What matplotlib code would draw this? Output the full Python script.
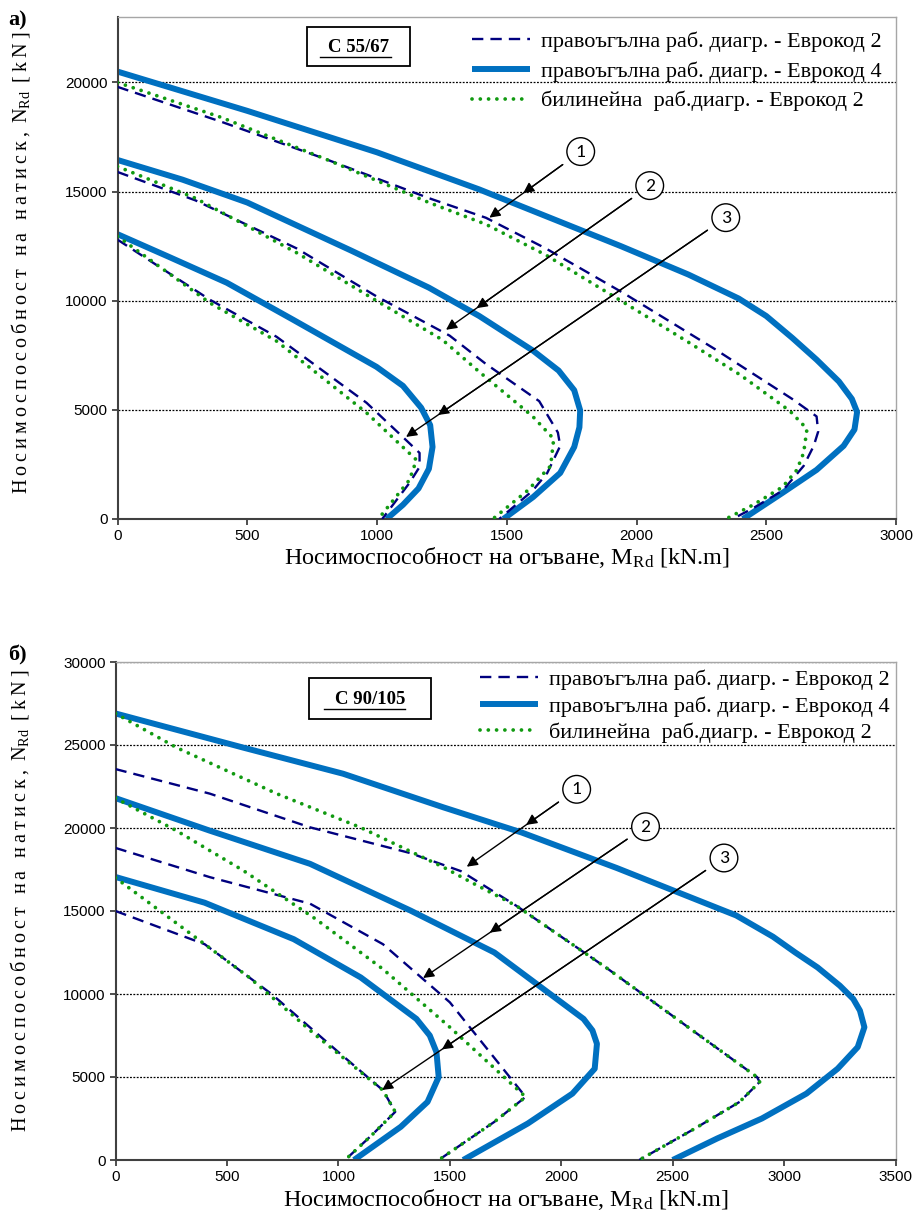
import matplotlib
matplotlib.use('Agg')
import matplotlib.pyplot as plt
from matplotlib import font_manager
from matplotlib.patches import Rectangle
from matplotlib.lines import Line2D

names = {f.name for f in font_manager.fontManager.ttflist}
NARROW = 'Liberation Sans Narrow' in names
TICKFONT = 'Liberation Sans Narrow' if NARROW else 'Liberation Sans'
TICKSIZE = 12.5 if NARROW else 11
SERIF = 'Liberation Serif'
CIRCFONT = 'Carlito' if 'Carlito' in names else 'Liberation Sans'

plt.rcParams['mathtext.fontset'] = 'custom'
plt.rcParams['mathtext.rm'] = SERIF
plt.rcParams['mathtext.it'] = SERIF + ':italic'
plt.rcParams['mathtext.bf'] = SERIF + ':bold'

# ---------------- DATA: panel а) C 55/67 ----------------
a_m_ec2_1 = [0, 400, 800, 1200, 1420, 1650, 1950, 2300, 2600, 2694, 2700, 2683, 2644, 2563, 2450, 2370]
a_n_ec2_1 = [19800, 18200, 16500, 14700, 13800, 12400, 10350, 7800, 5500, 4700, 4000, 3350, 2430, 1300, 500, 0]
a_m_ec4_1 = [0, 500, 1000, 1394, 1940, 2200, 2394, 2500, 2600, 2694, 2780, 2830, 2850, 2840, 2798, 2694, 2563, 2410]
a_n_ec4_1 = [20500, 18700, 16800, 15100, 12500, 11200, 10100, 9300, 8300, 7300, 6300, 5500, 4900, 4100, 3350, 2250, 1200, 0]
a_m_bil_1 = [0, 400, 800, 1200, 1420, 1650, 1940, 2200, 2400, 2591, 2657, 2644, 2618, 2563, 2450, 2344]
a_n_bil_1 = [20000, 18400, 16500, 14500, 13500, 12100, 10000, 8100, 6600, 4950, 4128, 3030, 2248, 1470, 650, 0]

a_m_ec2_2 = [0, 300, 690, 998, 1280, 1420, 1625, 1697, 1706, 1656, 1600, 1471]
a_n_ec2_2 = [15900, 14600, 12400, 10200, 8400, 7100, 5400, 3963, 3349, 2110, 1300, 0]
a_m_ec4_2 = [0, 250, 500, 900, 1200, 1394, 1602, 1700, 1760, 1783, 1780, 1760, 1706, 1602, 1487]
a_n_ec4_2 = [16450, 15550, 14500, 12300, 10600, 9300, 7706, 6800, 5900, 4972, 4200, 3300, 2110, 1009, 0]
a_m_bil_2 = [0, 300, 690, 998, 1253, 1394, 1600, 1681, 1669, 1580, 1446]
a_n_bil_2 = [16150, 14700, 12200, 10000, 8200, 6743, 4700, 3670, 2431, 1300, 0]

a_m_ec2_3 = [0, 356, 613, 960, 1099, 1164, 1164, 1125, 1020]
a_n_ec2_3 = [12800, 10046, 8349, 5321, 3761, 3028, 2385, 1651, 0]
a_m_ec4_3 = [0, 200, 421, 677, 998, 1100, 1170, 1205, 1214, 1200, 1160, 1100, 1037]
a_n_ec4_3 = [13050, 12000, 10826, 9128, 6972, 6100, 5100, 4300, 3300, 2300, 1400, 650, 0]
a_m_bil_3 = [0, 356, 613, 960, 1152, 1125, 1005]
a_n_bil_3 = [12950, 9900, 8150, 4862, 2706, 1789, 0]

# ---------------- DATA: panel б) C 90/105 ----------------
b_m_ec2_1 = [0, 423, 873, 1321, 1550, 1800, 2200, 2600, 2878, 2890, 2800, 2600, 2350]
b_n_ec2_1 = [23550, 22070, 20040, 18494, 17400, 15300, 11600, 7700, 5000, 4700, 3500, 1900, 0]
b_m_ec4_1 = [0, 571, 1021, 1471, 1821, 2249, 2785, 2950, 3050, 3150, 3250, 3310, 3340, 3360, 3330, 3240, 3100, 2900, 2700, 2500]
b_n_ec4_1 = [26900, 24850, 23270, 21245, 19735, 17590, 14730, 13450, 12500, 11600, 10500, 9700, 9000, 8000, 6800, 5500, 4000, 2500, 1300, 0]
b_m_bil_1 = [0, 273, 723, 1098, 1471, 1600, 1800, 2200, 2600, 2878, 2890, 2800, 2600, 2350]
b_n_bil_1 = [26900, 24850, 22070, 20040, 17640, 16700, 15300, 11600, 7700, 5000, 4700, 3500, 1900, 0]

b_m_ec2_2 = [0, 423, 873, 1200, 1500, 1840, 1700, 1450]
b_n_ec2_2 = [18800, 17040, 15440, 13000, 9500, 3800, 2300, 0]
b_m_ec4_2 = [0, 423, 873, 1323, 1700, 1950, 2100, 2140, 2160, 2150, 2050, 1850, 1560]
b_n_ec4_2 = [21800, 19840, 17840, 15030, 12500, 10000, 8500, 7800, 7000, 5500, 4000, 2200, 0]
b_m_bil_2 = [0, 273, 573, 900, 1200, 1500, 1840, 1700, 1450]
b_n_bil_2 = [21800, 19840, 17440, 14500, 11500, 8000, 3800, 2300, 0]

b_m_ec2_3 = [0, 400, 700, 1000, 1200, 1255, 1150, 1030]
b_n_ec2_3 = [15000, 13000, 10000, 6500, 4200, 2900, 1500, 0]
b_m_ec4_3 = [0, 400, 800, 1100, 1350, 1410, 1440, 1450, 1400, 1280, 1070]
b_n_ec4_3 = [17050, 15500, 13300, 11000, 8500, 7500, 6500, 5000, 3500, 2000, 0]
b_m_bil_3 = [0, 300, 600, 900, 1200, 1255, 1150, 1030]
b_n_bil_3 = [17000, 14000, 11000, 7500, 4200, 2900, 1500, 0]

legend_labels = ['правоъгълна раб. диагр. - Еврокод 2',
                 'правоъгълна раб. диагр. - Еврокод 4',
                 'билинейна  раб.диагр. - Еврокод 2']

# annotation circles: (label, circle centre, arrow end, fraction for middle arrow head)
a_marks = [('1', (1785, 16835), (1433, 13807), 0.63),
           ('2', (2051, 15275), (1266, 8670), 0.85),
           ('3', (2344, 13807), (1112, 3761), 0.90)]
b_marks = [('1', (2069, 22331), (1576, 17669), 0.46),
           ('2', (2378, 20078), (1380, 10964), 0.70),
           ('3', (2730, 18193), (1196, 4217), 0.825)]

BLUE = '#0070C0'
NAVY = '#00007F'
GREEN = '#119A11'

W, H = 916, 1227
fig = plt.figure(figsize=(W / 100, H / 100), dpi=100)


def fx(px):
    return px / W


def fy(py):
    return 1 - py / H


def spaced(s):
    return '\u2009'.join(s)


def draw_panel(ax, series, xmax, ymax, marks, leg_xy, leg_sp, ylab_xy):
    hs = {}
    for kind, m, n in series:
        if kind == 'ec2':
            l, = ax.plot(m, n, color=NAVY, lw=1.7, dashes=(4.8, 3.0), zorder=3)
        elif kind == 'ec4':
            l, = ax.plot(m, n, color=BLUE, lw=4.3, solid_capstyle='butt', solid_joinstyle='round', zorder=2)
        else:
            l, = ax.plot(m, n, color=GREEN, lw=2.7, dashes=(0.01, 2.2), dash_capstyle='round', zorder=4)
        hs[kind] = l
    ax.set_xlim(0, xmax)
    ax.set_ylim(0, ymax)
    ax.set_xticks(range(0, xmax + 1, 500))
    ax.set_yticks(range(0, ymax + 1, 5000))
    ax.yaxis.grid(True, color='black', linestyle=(0, (1.5, 1.2)), lw=0.9)
    ax.set_axisbelow(True)
    ax.tick_params(direction='out', length=4, width=1.2, colors='#303030',
                   labelsize=TICKSIZE, pad=3)
    for lab in ax.get_xticklabels() + ax.get_yticklabels():
        lab.set_fontfamily(TICKFONT)
        lab.set_color('black')
    for s in ['left', 'bottom']:
        ax.spines[s].set_color('#404040')
        ax.spines[s].set_linewidth(1.5)
    for s in ['top', 'right']:
        ax.spines[s].set_color('#A6A6A6')
        ax.spines[s].set_linewidth(1.0)
    ax.set_xlabel('Носимоспособност на огъване, M$_{\\mathrm{Rd}}$ [kN.m]',
                  fontfamily=SERIF, fontsize=17.5, labelpad=2)
    ax.set_ylabel(spaced('Носимоспособност на натиск, ') + 'N$_{\\mathrm{Rd}}$' + spaced(' [kN]'),
                  fontfamily=SERIF, fontsize=14.5)
    ax.yaxis.set_label_coords(*ylab_xy)
    handles = [hs['ec2'], hs['ec4'], hs['bil']]
    ax.legend(handles, legend_labels, loc='upper left', bbox_to_anchor=leg_xy,
              frameon=False, prop={'family': SERIF, 'size': 16},
              handlelength=2.6, handletextpad=0.5, labelspacing=leg_sp,
              borderaxespad=0.0, borderpad=0.0)
    for txt, c, end, frac in marks:
        mid = (c[0] + frac * (end[0] - c[0]), c[1] + frac * (end[1] - c[1]))
        for hd in (mid, end):
            ax.annotate('', xy=hd, xytext=c,
                        arrowprops=dict(arrowstyle='-|>', color='black', lw=1.0,
                                        mutation_scale=16, shrinkA=16, shrinkB=0),
                        zorder=6)
        ax.text(c[0], c[1], txt, ha='center', va='center', fontsize=14,
                fontfamily=CIRCFONT, zorder=7,
                bbox=dict(boxstyle='circle,pad=0.3', fc='white', ec='black', lw=1.0))


ax1 = fig.add_axes([fx(117.5), fy(519), (896 - 117.5) / W, (519 - 17) / H])
draw_panel(ax1, [('ec2', a_m_ec2_1, a_n_ec2_1), ('ec4', a_m_ec4_1, a_n_ec4_1), ('bil', a_m_bil_1, a_n_bil_1),
                 ('ec2', a_m_ec2_2, a_n_ec2_2), ('ec4', a_m_ec4_2, a_n_ec4_2), ('bil', a_m_bil_2, a_n_bil_2),
                 ('ec2', a_m_ec2_3, a_n_ec2_3), ('ec4', a_m_ec4_3, a_n_ec4_3), ('bil', a_m_bil_3, a_n_bil_3)],
           3000, 23000, a_marks, (0.456, 0.972), 0.42, (-0.11, 0.51))

ax2 = fig.add_axes([fx(115.5), fy(1160), (895.6 - 115.5) / W, (1160 - 662) / H])
draw_panel(ax2, [('ec2', b_m_ec2_1, b_n_ec2_1), ('ec4', b_m_ec4_1, b_n_ec4_1), ('bil', b_m_bil_1, b_n_bil_1),
                 ('ec2', b_m_ec2_2, b_n_ec2_2), ('ec4', b_m_ec4_2, b_n_ec4_2), ('bil', b_m_bil_2, b_n_bil_2),
                 ('ec2', b_m_ec2_3, b_n_ec2_3), ('ec4', b_m_ec4_3, b_n_ec4_3), ('bil', b_m_bil_3, b_n_bil_3)],
           3500, 30000, b_marks, (0.467, 0.985), 0.27, (-0.108, 0.52))

fig.text(fx(8), fy(20), 'а)', fontfamily=SERIF, fontweight='bold', fontsize=16, va='center', ha='left')
fig.text(fx(8), fy(655), 'б)', fontfamily=SERIF, fontweight='bold', fontsize=16, va='center', ha='left')

for (x0, y0, x1, y1, txt, ux0, ux1, uy) in [(307, 27, 410, 66, 'C 55/67', 320, 391, 57),
                                            (309, 678, 431, 719, 'C 90/105', 324, 405, 709)]:
    fig.add_artist(Rectangle((fx(x0), fy(y1)), (x1 - x0) / W, (y1 - y0) / H,
                             transform=fig.transFigure, fc='white', ec='black', lw=1.3, zorder=8))
    fig.text(fx((x0 + x1) / 2), fy((y0 + y1) / 2 + 1), txt, fontfamily=SERIF, fontweight='bold',
             fontsize=13.5, ha='center', va='center', zorder=9)
    fig.add_artist(Line2D([fx(ux0), fx(ux1)], [fy(uy), fy(uy)], transform=fig.transFigure,
                          color='black', lw=1.0, zorder=9))

fig.savefig('out.png', dpi=100)
